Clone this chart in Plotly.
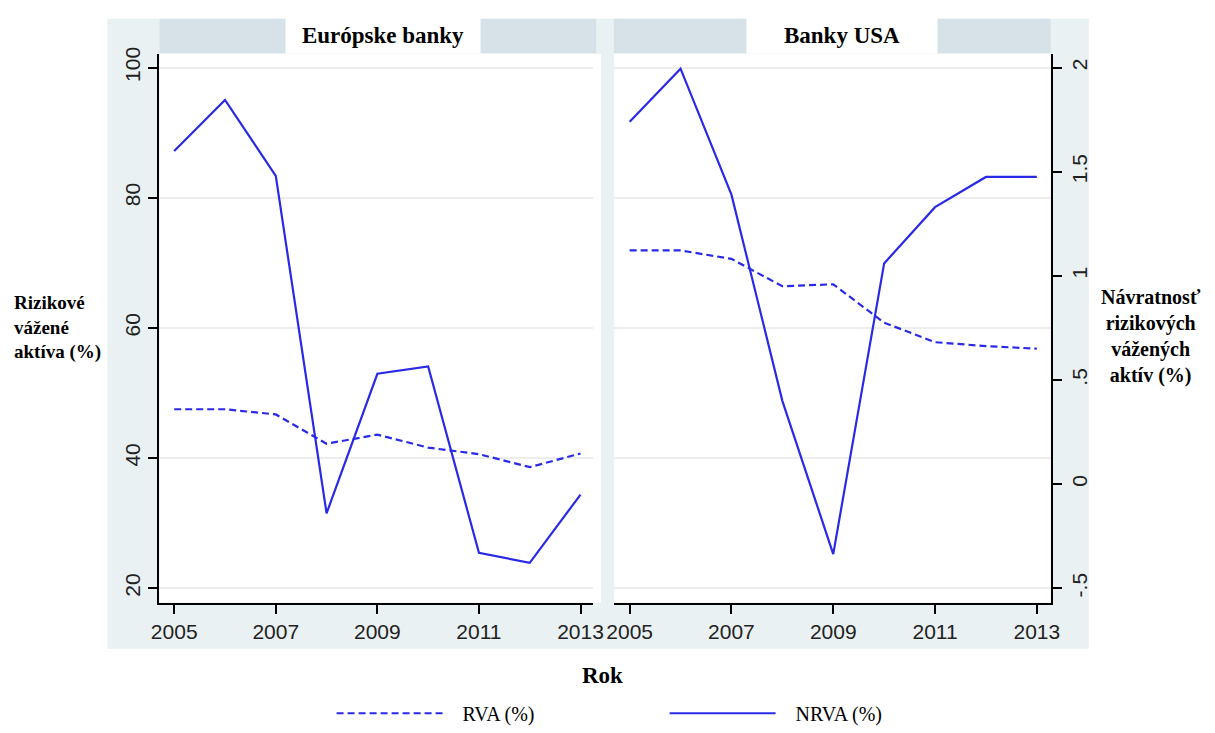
import plotly.graph_objects as go

years = [2005, 2006, 2007, 2008, 2009, 2010, 2011, 2012, 2013]
eu_rva = [47.5, 47.5, 46.7, 42.2, 43.6, 41.6, 40.6, 38.6, 40.7]
eu_nrva = [1.60, 1.845, 1.48, -0.14, 0.53, 0.565, -0.33, -0.378, -0.05]
us_rva = [71.9, 71.9, 70.6, 66.4, 66.7, 60.8, 57.8, 57.2, 56.8]
us_nrva = [1.74, 1.995, 1.39, 0.40, -0.336, 1.06, 1.33, 1.475, 1.475]

panel_titles = ["Európske banky", "Banky USA"]
series_names = ["RVA (%)", "NRVA (%)"]
left_ticks = [20, 40, 60, 80, 100]
right_ticks = [-0.5, 0, 0.5, 1, 1.5, 2]
right_ticktext = ["-.5", "0", ".5", "1", "1.5", "2"]
x_ticks = [2005, 2007, 2009, 2011, 2013]

W, H = 1215, 733
def px(x): return x / W
def py(y): return 1 - y / H

BLUE = "#2a2ae6"
SERIF = "Liberation Serif, Times New Roman, serif"
SANS = "Liberation Sans, Arial, sans-serif"
PAD = "\u00a0\u00a0\u00a0"

fig = go.Figure()
fig.add_trace(go.Scatter(x=years, y=eu_rva, mode="lines", name=PAD + series_names[0],
                         line=dict(color=BLUE, width=2.2, dash="7px,4px"),
                         xaxis="x", yaxis="y", legendgroup="rva"))
fig.add_trace(go.Scatter(x=years, y=eu_nrva, mode="lines", name=PAD + series_names[1],
                         line=dict(color=BLUE, width=2.2),
                         xaxis="x", yaxis="y2", legendgroup="nrva"))
fig.add_trace(go.Scatter(x=years, y=us_rva, mode="lines", name=PAD + series_names[0],
                         line=dict(color=BLUE, width=2.2, dash="7px,4px"),
                         xaxis="x2", yaxis="y3", legendgroup="rva", showlegend=False))
fig.add_trace(go.Scatter(x=years, y=us_nrva, mode="lines", name=PAD + series_names[1],
                         line=dict(color=BLUE, width=2.2),
                         xaxis="x2", yaxis="y4", legendgroup="nrva", showlegend=False))

L_x0, L_x1 = 153, 594
R_x0, R_x1 = 615, 1059
Y_top, Y_bot = 48, 610
ydom = [py(Y_bot), py(Y_top)]
left_range = [17.75, 102.1]
right_range = [-0.570, 2.066]

tickfont = dict(family=SANS, size=21, color="#222222")
gridc = "#ededed"

xcommon = dict(tickvals=x_ticks, ticks="outside", ticklen=9, tickwidth=2,
               tickcolor="black", showline=True, linecolor="black", linewidth=2,
               showgrid=False, zeroline=False, tickfont=tickfont)
fig.update_layout(
    xaxis=dict(domain=[px(L_x0), px(L_x1)], range=[2004.71, 2013.25], anchor="y", **xcommon),
    xaxis2=dict(domain=[px(R_x0), px(R_x1)], range=[2004.69, 2013.27], anchor="y3", **xcommon),
    yaxis=dict(domain=ydom, range=left_range, anchor="x", tickvals=left_ticks,
               tickangle=-90, ticks="outside", ticklen=9, tickwidth=2, tickcolor="black",
               showline=True, linecolor="black", linewidth=2, showgrid=True,
               gridcolor=gridc, gridwidth=1.5, zeroline=False, tickfont=tickfont),
    yaxis2=dict(overlaying="y", anchor="x", side="right", range=right_range,
                visible=False, showgrid=False),
    yaxis3=dict(domain=ydom, range=left_range, anchor="x2", tickvals=left_ticks,
                showticklabels=False, ticks="", showline=False, showgrid=True,
                gridcolor=gridc, gridwidth=1.5, zeroline=False),
    yaxis4=dict(overlaying="y3", anchor="x2", side="right", range=right_range,
                tickvals=right_ticks, ticktext=right_ticktext, tickangle=-90,
                ticks="outside", ticklen=9, tickwidth=2, tickcolor="black",
                showline=True, linecolor="black", linewidth=2, showgrid=False,
                zeroline=False, tickfont=tickfont),
)

BG = "#eaf1f3"
STRIP = "#d6e2e8"
shapes = [
    dict(type="rect", xref="paper", yref="paper", x0=px(100), x1=px(1098),
         y0=py(657), y1=py(12), fillcolor=BG, line=dict(width=0), layer="below"),
    dict(type="rect", xref="paper", yref="paper", x0=px(L_x0), x1=px(L_x1 + 8),
         y0=py(Y_bot), y1=py(Y_top), fillcolor="white", line=dict(width=0), layer="below"),
    dict(type="rect", xref="paper", yref="paper", x0=px(R_x0), x1=px(R_x1),
         y0=py(Y_bot), y1=py(Y_top), fillcolor="white", line=dict(width=0), layer="below"),
    dict(type="rect", xref="paper", yref="paper", x0=px(L_x0), x1=px(L_x1 + 3),
         y0=py(47), y1=py(12), fillcolor=STRIP, line=dict(width=0), layer="below"),
    dict(type="rect", xref="paper", yref="paper", x0=px(R_x0), x1=px(R_x1),
         y0=py(47), y1=py(12), fillcolor=STRIP, line=dict(width=0), layer="below"),
]

annotations = [
    dict(text=f"<b>{panel_titles[0]}</b>", xref="paper", yref="paper",
         x=px(380), y=py(29.5), xanchor="center", yanchor="middle", showarrow=False,
         bgcolor="white", width=192, height=33,
         font=dict(family=SERIF, size=23, color="black")),
    dict(text=f"<b>{panel_titles[1]}</b>", xref="paper", yref="paper",
         x=px(847), y=py(29.5), xanchor="center", yanchor="middle", showarrow=False,
         bgcolor="white", width=188, height=33,
         font=dict(family=SERIF, size=23, color="black")),
    dict(text="<b>Rizikové<br>vážené<br>aktíva (%)</b>", xref="paper", yref="paper",
         x=px(3), y=py(328), xanchor="left", yanchor="middle", align="left",
         showarrow=False, font=dict(family=SERIF, size=19, color="black")),
    dict(text="<b>Návratnosť<br>rizikových<br>vážených<br>aktív (%)</b>", xref="paper",
         yref="paper", x=px(1161), y=py(337), xanchor="center", yanchor="middle",
         align="center", showarrow=False, font=dict(family=SERIF, size=20, color="black")),
    dict(text="<b>Rok</b>", xref="paper", yref="paper", x=px(603), y=py(684),
         xanchor="center", yanchor="middle", showarrow=False,
         font=dict(family=SERIF, size=23, color="black")),
]

fig.update_layout(
    width=W, height=H, margin=dict(l=0, r=0, t=0, b=0),
    paper_bgcolor="white", plot_bgcolor="rgba(0,0,0,0)",
    shapes=shapes, annotations=annotations,
    showlegend=True,
    legend=dict(orientation="h", x=px(328), xanchor="left", y=py(723), yanchor="middle",
                font=dict(family=SERIF, size=20, color="black"),
                entrywidth=212, entrywidthmode="pixels", bgcolor="rgba(0,0,0,0)",
                itemwidth=106),
)

fig.write_html("out.html")
